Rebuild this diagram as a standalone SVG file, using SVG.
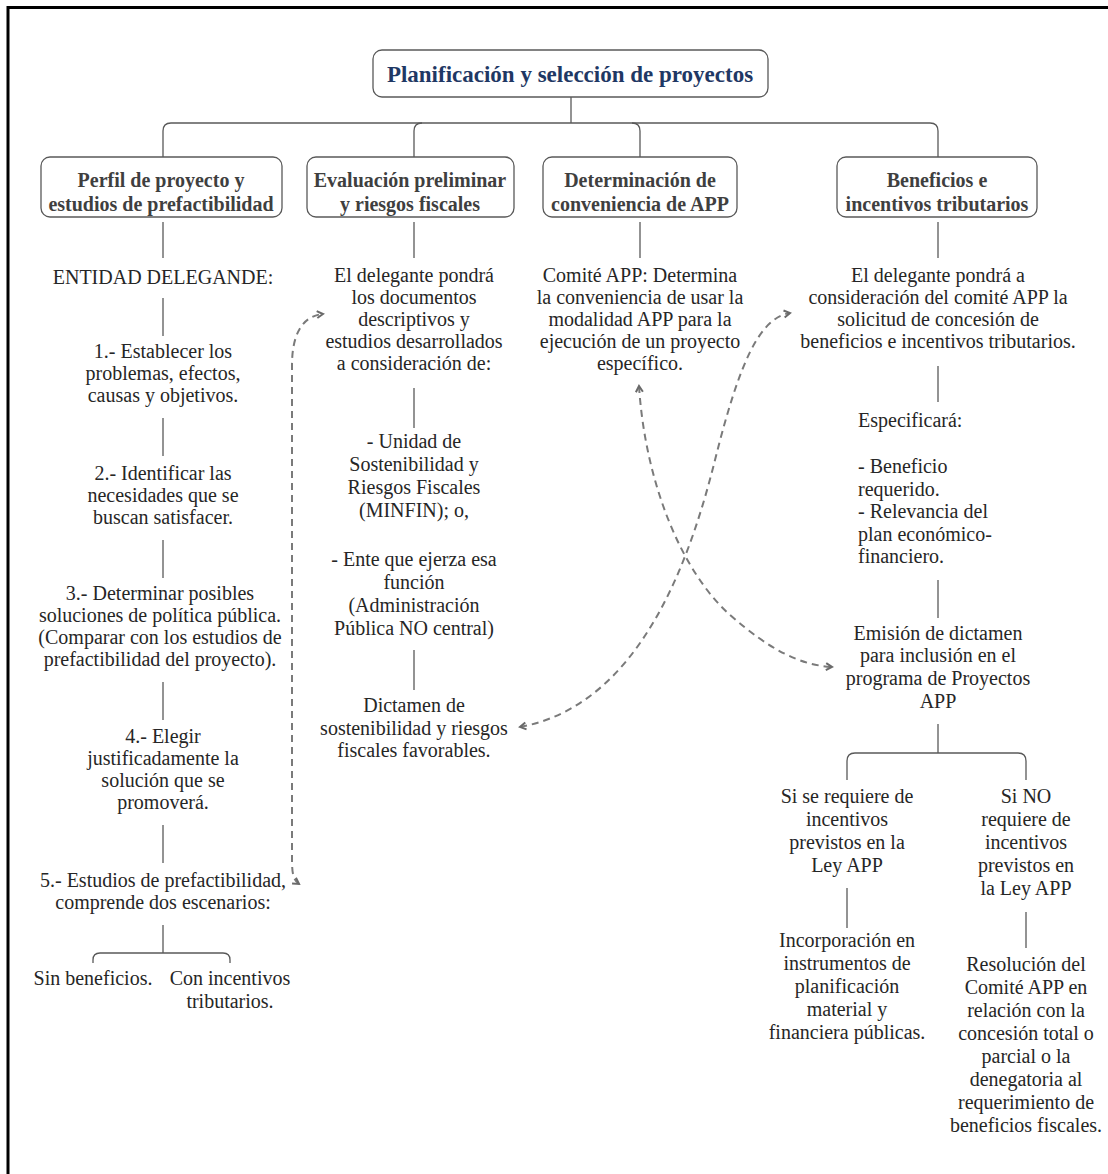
<svg xmlns="http://www.w3.org/2000/svg" width="1108" height="1174" viewBox="0 0 1108 1174">
<style>
.box{fill:#fff;stroke:#595959;stroke-width:1.3}
.ln{fill:none;stroke:#595959;stroke-width:1.3}
.dash{fill:none;stroke:#7a7a7a;stroke-width:2;stroke-dasharray:7 5}
.t{font-family:"Liberation Serif","Times New Roman",serif;font-size:20px;fill:#262626;text-anchor:middle}
.tl{font-family:"Liberation Serif","Times New Roman",serif;font-size:20px;fill:#262626;text-anchor:start}
.h{font-family:"Liberation Serif","Times New Roman",serif;font-size:20px;font-weight:bold;fill:#3f3f3f;text-anchor:middle}
.title{font-family:"Liberation Serif","Times New Roman",serif;font-size:23px;font-weight:bold;fill:#1f3864;text-anchor:middle}
</style>
<defs>
<marker id="arr" viewBox="0 0 10 10" refX="8" refY="5" markerWidth="10" markerHeight="10" markerUnits="userSpaceOnUse" orient="auto-start-reverse">
<path d="M2,1.5 L8,5 L2,8.5" fill="none" stroke="#6a6a6a" stroke-width="2"/>
</marker>
</defs>
<rect width="1108" height="1174" fill="#fff"/>
<path d="M8,1174 V7.5 H1108" fill="none" stroke="#000" stroke-width="3"/>

<g id="connectors">
<path class="ln" d="M571,97 V123"/>
<path class="ln" d="M163,157 V131 Q163,123 171,123 H930 Q938,123 938,131 V157"/>
<path class="ln" d="M414,157 V131 Q414,123 422,123"/>
<path class="ln" d="M640,157 V131 Q640,123 632,123"/>
<path class="ln" d="M163,222 V258"/>
<path class="ln" d="M414,222 V258"/>
<path class="ln" d="M640,222 V258"/>
<path class="ln" d="M938,222 V258"/>
<path class="ln" d="M163,298 V336"/>
<path class="ln" d="M163,418 V456"/>
<path class="ln" d="M163,540 V578"/>
<path class="ln" d="M163,682 V720"/>
<path class="ln" d="M163,825 V863"/>
<path class="ln" d="M163,925 V953"/>
<path class="ln" d="M93,963 V960 Q93,953 100,953 H223 Q230,953 230,960 V963"/>
<path class="ln" d="M414,388 V428"/>
<path class="ln" d="M414,650 V690"/>
<path class="ln" d="M938,366 V402"/>
<path class="ln" d="M938,580 V618"/>
<path class="ln" d="M938,724 V753"/>
<path class="ln" d="M847,780 V761 Q847,753 855,753 H1018 Q1026,753 1026,761 V780"/>
<path class="ln" d="M847,888 V928"/>
<path class="ln" d="M1026,912 V948"/>
<path class="dash" marker-start="url(#arr)" marker-end="url(#arr)" d="M299,884 C293,880 292,872 292,860 L292,365 C292,335 302,316 323,314"/>
<path class="dash" marker-start="url(#arr)" marker-end="url(#arr)" d="M520,727 C640,705 690,560 715,460 C740,360 760,318 790,313"/>
<path class="dash" marker-start="url(#arr)" marker-end="url(#arr)" d="M639,386 C645,480 680,570 730,615 C770,650 800,665 832,667"/>
</g>

<g id="title">
<rect class="box" x="373" y="50" width="395" height="47" rx="9"/>
<text class="title" x="570" y="82">Planificación y selección de proyectos</text>
</g>

<g id="perfil">
<rect class="box" x="41" y="157" width="241" height="60" rx="9"/>
<text class="h" x="161" y="187">Perfil de proyecto y</text>
<text class="h" x="161" y="211">estudios de prefactibilidad</text>
</g>
<g id="evaluacion">
<rect class="box" x="307" y="157" width="207" height="60" rx="9"/>
<text class="h" x="410" y="187">Evaluación preliminar</text>
<text class="h" x="410" y="211">y riesgos fiscales</text>
</g>
<g id="determinacion">
<rect class="box" x="543" y="157" width="194" height="60" rx="9"/>
<text class="h" x="640" y="187">Determinación de</text>
<text class="h" x="640" y="211">conveniencia de APP</text>
</g>
<g id="beneficios">
<rect class="box" x="837" y="157" width="200" height="60" rx="9"/>
<text class="h" x="937" y="187">Beneficios e</text>
<text class="h" x="937" y="211">incentivos tributarios</text>
</g>

<g id="entidad"><text class="t" x="163" y="284">ENTIDAD DELEGANDE:</text></g>
<g id="paso1"><text class="t" x="163" y="358">1.- Establecer los<tspan x="163" y="380">problemas, efectos,</tspan><tspan x="163" y="402">causas y objetivos.</tspan></text></g>
<g id="paso2"><text class="t" x="163" y="480">2.- Identificar las<tspan x="163" y="502">necesidades que se</tspan><tspan x="163" y="524">buscan satisfacer.</tspan></text></g>
<g id="paso3"><text class="t" x="160" y="600">3.- Determinar posibles<tspan x="160" y="622">soluciones de política pública.</tspan><tspan x="160" y="644">(Comparar con los estudios de</tspan><tspan x="160" y="666">prefactibilidad del proyecto).</tspan></text></g>
<g id="paso4"><text class="t" x="163" y="743">4.- Elegir<tspan x="163" y="765">justificadamente la</tspan><tspan x="163" y="787">solución que se</tspan><tspan x="163" y="809">promoverá.</tspan></text></g>
<g id="paso5"><text class="t" x="163" y="887">5.- Estudios de prefactibilidad,<tspan x="163" y="909">comprende dos escenarios:</tspan></text></g>
<g id="sin"><text class="t" x="93" y="985">Sin beneficios.</text></g>
<g id="con"><text class="t" x="230" y="985">Con incentivos<tspan x="230" y="1008">tributarios.</tspan></text></g>

<g id="delegante1"><text class="t" x="414" y="282">El delegante pondrá<tspan x="414" y="304">los documentos</tspan><tspan x="414" y="326">descriptivos y</tspan><tspan x="414" y="348">estudios desarrollados</tspan><tspan x="414" y="370">a consideración de:</tspan></text></g>
<g id="unidad"><text class="t" x="414" y="448">- Unidad de<tspan x="414" y="471">Sostenibilidad y</tspan><tspan x="414" y="494">Riesgos Fiscales</tspan><tspan x="414" y="517">(MINFIN); o,</tspan><tspan x="414" y="566">- Ente que ejerza esa</tspan><tspan x="414" y="589">función</tspan><tspan x="414" y="612">(Administración</tspan><tspan x="414" y="635">Pública NO central)</tspan></text></g>
<g id="dictamen"><text class="t" x="414" y="712">Dictamen de<tspan x="414" y="735">sostenibilidad y riesgos</tspan><tspan x="414" y="757">fiscales favorables.</tspan></text></g>

<g id="comite"><text class="t" x="640" y="282">Comité APP: Determina<tspan x="640" y="304">la conveniencia de usar la</tspan><tspan x="640" y="326">modalidad APP para la</tspan><tspan x="640" y="348">ejecución de un proyecto</tspan><tspan x="640" y="370">específico.</tspan></text></g>

<g id="delegante2"><text class="t" x="938" y="282">El delegante pondrá a<tspan x="938" y="304">consideración del comité APP la</tspan><tspan x="938" y="326">solicitud de concesión de</tspan><tspan x="938" y="348">beneficios e incentivos tributarios.</tspan></text></g>
<g id="especificara"><text class="tl" x="858" y="427">Especificará:<tspan x="858" y="473">- Beneficio</tspan><tspan x="858" y="496">requerido.</tspan><tspan x="858" y="518">- Relevancia del</tspan><tspan x="858" y="541">plan económico-</tspan><tspan x="858" y="563">financiero.</tspan></text></g>
<g id="emision"><text class="t" x="938" y="640">Emisión de dictamen<tspan x="938" y="662">para inclusión en el</tspan><tspan x="938" y="685">programa de Proyectos</tspan><tspan x="938" y="708">APP</tspan></text></g>
<g id="si"><text class="t" x="847" y="803">Si se requiere de<tspan x="847" y="826">incentivos</tspan><tspan x="847" y="849">previstos en la</tspan><tspan x="847" y="872">Ley APP</tspan></text></g>
<g id="sino"><text class="t" x="1026" y="803">Si NO<tspan x="1026" y="826">requiere de</tspan><tspan x="1026" y="849">incentivos</tspan><tspan x="1026" y="872">previstos en</tspan><tspan x="1026" y="895">la Ley APP</tspan></text></g>
<g id="incorporacion"><text class="t" x="847" y="947">Incorporación en<tspan x="847" y="970">instrumentos de</tspan><tspan x="847" y="993">planificación</tspan><tspan x="847" y="1016">material y</tspan><tspan x="847" y="1039">financiera públicas.</tspan></text></g>
<g id="resolucion"><text class="t" x="1026" y="971">Resolución del<tspan x="1026" y="994">Comité APP en</tspan><tspan x="1026" y="1017">relación con la</tspan><tspan x="1026" y="1040">concesión total o</tspan><tspan x="1026" y="1063">parcial o la</tspan><tspan x="1026" y="1086">denegatoria al</tspan><tspan x="1026" y="1109">requerimiento de</tspan><tspan x="1026" y="1132">beneficios fiscales.</tspan></text></g>
</svg>
